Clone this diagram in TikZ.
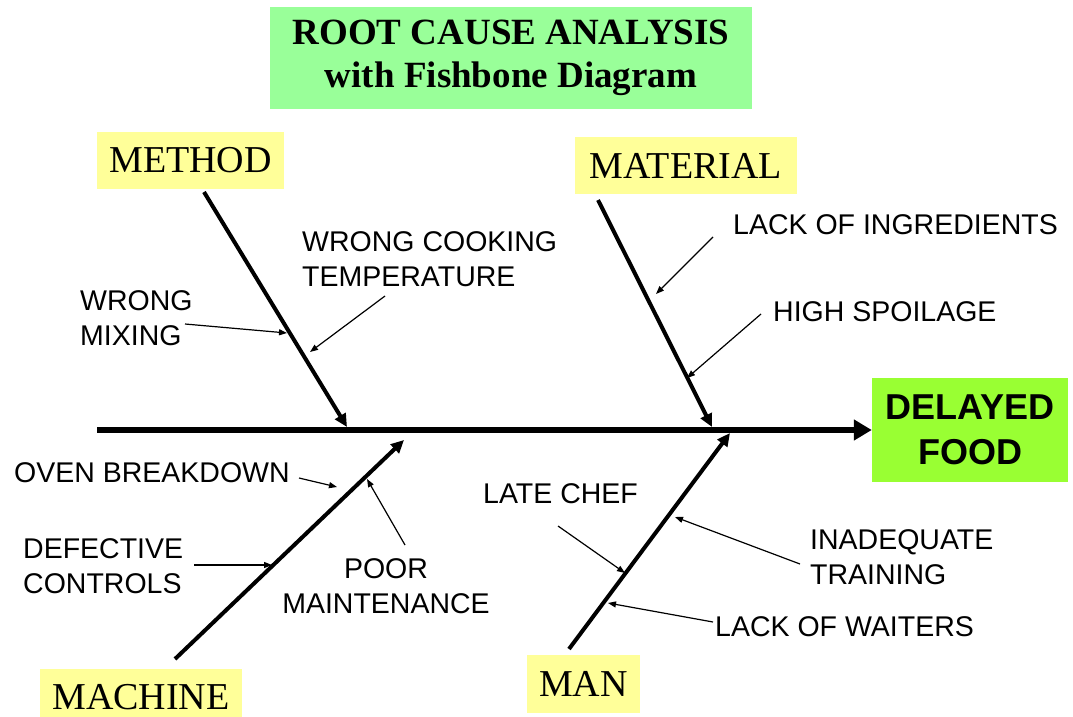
\documentclass[tikz,border=0pt]{standalone}
\usepackage{fontspec}
\setmainfont{Liberation Serif}
\setsansfont{Liberation Sans}
\usetikzlibrary{arrows.meta}
\definecolor{titlegreen}{HTML}{99FF99}
\definecolor{catyellow}{HTML}{FFFF99}
\definecolor{effectlime}{HTML}{99FF33}
\tikzset{
  catbox/.style={fill=catyellow, inner sep=0pt, font=\fontsize{38}{40}\selectfont},
  cause/.style={inner sep=0pt, align=left, anchor=west, font=\sffamily\fontsize{28.5}{35}\selectfont},
  causec/.style={cause, align=center, anchor=center},
  spine/.style={line width=6pt, -{Triangle[length=18pt,width=20pt]}},
  bone/.style={line width=4pt, -{Triangle[length=13pt,width=12pt]}},
  twig/.style={line width=1.2pt, -{Triangle[length=8pt,width=6pt]}},
}
\begin{document}
\begin{tikzpicture}[x=1pt, y=-1pt]
\useasboundingbox (0,0) rectangle (1073,717);

% title
\node[fill=titlegreen, minimum width=482pt, minimum height=102pt, inner sep=0pt,
      align=center, font=\bfseries\fontsize{37}{43}\selectfont]
  (title) at (511,58) {ROOT CAUSE ANALYSIS\\with Fishbone Diagram};

% effect (head of the fish)
\node[fill=effectlime, minimum width=196pt, minimum height=104pt, inner sep=0pt,
      align=center, font=\sffamily\bfseries\fontsize{36}{45}\selectfont]
  (effect) at (970,430) {DELAYED\\FOOD};

% category boxes
\node[catbox, minimum width=187pt, minimum height=57pt] (method)   at (190.5,160.5) {METHOD};
\node[catbox, minimum width=222pt, minimum height=57pt] (material) at (686,165.5)   {MATERIAL};
\node[catbox, minimum width=202pt, minimum height=57pt] (machine)  at (141,697)     {MACHINE};
\node[catbox, minimum width=113pt, minimum height=58pt] (man)      at (583.5,684)   {MAN};

% backbone
\coordinate (tail) at (97,430);
\draw[spine] (tail) -- (effect.west);

% main bones
\coordinate (methodS)   at (204,192);  \coordinate (methodE)   at (347,427);
\coordinate (materialS) at (598,200);  \coordinate (materialE) at (712,427);
\coordinate (machineS)  at (175,659);  \coordinate (machineE)  at (404,440);
\coordinate (manS)      at (569,649);  \coordinate (manE)      at (730,433);
\draw[bone] (methodS) -- (methodE);
\draw[bone] (materialS) -- (materialE);
\draw[bone] (machineS) -- (machineE);
\draw[bone] (manS) -- (manE);

% causes
\node[cause] (wcook)  at (302,259.5) {WRONG COOKING\\TEMPERATURE};
\node[cause] (wmix)   at (80,318)    {WRONG\\MIXING};
\node[cause] (lack)   at (733,225)   {LACK OF INGREDIENTS};
\node[cause] (spoil)  at (773,311.5) {HIGH SPOILAGE};
\node[cause] (oven)   at (14,472.5)  {OVEN BREAKDOWN};
\node[cause] (defect) at (23,566.5)  {DEFECTIVE\\CONTROLS};
\node[causec] (poor)  at (386,586.5) {POOR\\MAINTENANCE};
\node[cause] (chef)   at (483,494)   {LATE CHEF};
\node[cause] (train)  at (810,557)   {INADEQUATE\\TRAINING};
\node[cause] (wait)   at (715,626.5) {LACK OF WAITERS};

% cause arrows
\coordinate (wmixS) at (185,324);   \coordinate (wmixE) at (287,333);
\coordinate (wcookS) at (385,296);  \coordinate (wcookE) at (310,352);
\coordinate (lackS) at (713,237);   \coordinate (lackE) at (656,294);
\coordinate (spoilS) at (761,314);  \coordinate (spoilE) at (687,378);
\coordinate (ovenS) at (299,478);   \coordinate (ovenE) at (337,487);
\coordinate (defectS) at (194,565); \coordinate (defectE) at (272,565);
\coordinate (poorS) at (405,545);   \coordinate (poorE) at (367,479);
\coordinate (chefS) at (558,526);   \coordinate (chefE) at (625,573);
\coordinate (trainS) at (800,564);  \coordinate (trainE) at (675,517);
\coordinate (waitS) at (713,622);   \coordinate (waitE) at (608,603);
\draw[twig] (wmixS) -- (wmixE);
\draw[twig] (wcookS) -- (wcookE);
\draw[twig] (lackS) -- (lackE);
\draw[twig] (spoilS) -- (spoilE);
\draw[twig] (ovenS) -- (ovenE);
\draw[twig] (defectS) -- (defectE);
\draw[twig] (poorS) -- (poorE);
\draw[twig] (chefS) -- (chefE);
\draw[twig] (trainS) -- (trainE);
\draw[twig] (waitS) -- (waitE);
\end{tikzpicture}
\end{document}
